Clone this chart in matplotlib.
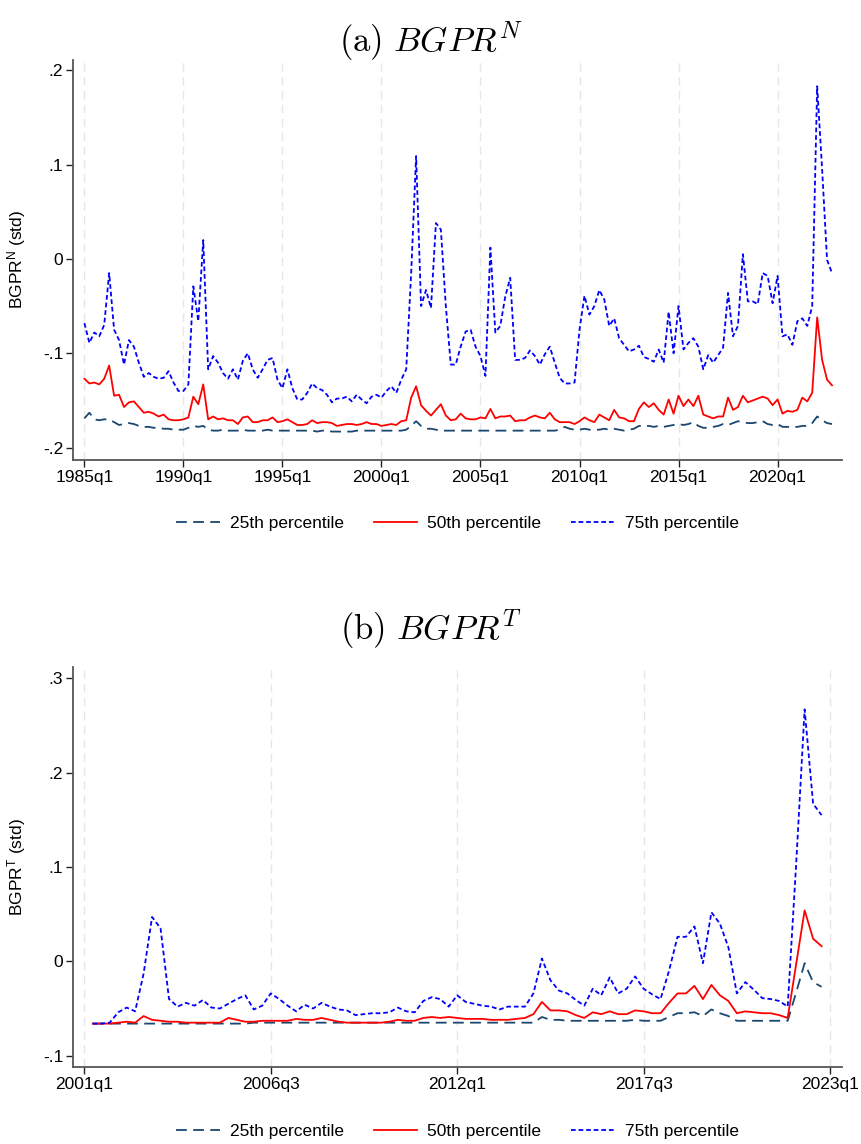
"""BGPR 분위수(25/50/75th) 시계열 — 패널 (a) BGPR^N, (b) BGPR^T."""
import numpy as np
import matplotlib
matplotlib.use("Agg")
import matplotlib.pyplot as plt

plt.rcParams["font.family"] = ["Liberation Sans", "DejaVu Sans"]
plt.rcParams["mathtext.fontset"] = "custom"
plt.rcParams["mathtext.rm"] = "Liberation Sans"
plt.rcParams["mathtext.it"] = "Liberation Sans:italic"

# (a) BGPR^N, 1985q1 - 2022q4
N_START = 1985
N_P25 = [
    -0.169, -0.163, -0.170, -0.171, -0.170, -0.170, -0.173, -0.176, -0.175, -0.174,
    -0.175, -0.177, -0.178, -0.178, -0.179, -0.179, -0.180, -0.180, -0.181, -0.181,
    -0.181, -0.179, -0.177, -0.178, -0.177, -0.181, -0.182, -0.182, -0.181, -0.182,
    -0.182, -0.182, -0.181, -0.182, -0.182, -0.182, -0.182, -0.181, -0.182, -0.182,
    -0.182, -0.182, -0.182, -0.182, -0.182, -0.182, -0.182, -0.183, -0.182, -0.182,
    -0.183, -0.183, -0.183, -0.183, -0.183, -0.182, -0.182, -0.182, -0.182, -0.182,
    -0.182, -0.182, -0.182, -0.182, -0.182, -0.181, -0.177, -0.172, -0.177, -0.180,
    -0.180, -0.181, -0.182, -0.182, -0.182, -0.182, -0.182, -0.182, -0.182, -0.182,
    -0.182, -0.182, -0.182, -0.182, -0.182, -0.182, -0.182, -0.182, -0.182, -0.182,
    -0.182, -0.182, -0.182, -0.182, -0.182, -0.182, -0.181, -0.178, -0.180, -0.181,
    -0.181, -0.180, -0.181, -0.181, -0.181, -0.180, -0.181, -0.180, -0.181, -0.182,
    -0.181, -0.180, -0.177, -0.177, -0.177, -0.178, -0.177, -0.178, -0.177, -0.176,
    -0.175, -0.176, -0.175, -0.173, -0.177, -0.179, -0.179, -0.178, -0.177, -0.175,
    -0.176, -0.174, -0.172, -0.173, -0.174, -0.174, -0.173, -0.172, -0.175, -0.176,
    -0.175, -0.178, -0.178, -0.178, -0.178, -0.177, -0.177, -0.174, -0.167, -0.171,
    -0.174, -0.175,
]
N_P50 = [
    -0.127, -0.132, -0.131, -0.133, -0.127, -0.113, -0.145, -0.144, -0.157, -0.152,
    -0.151, -0.157, -0.163, -0.162, -0.164, -0.167, -0.165, -0.170, -0.171, -0.171,
    -0.170, -0.168, -0.146, -0.154, -0.133, -0.170, -0.167, -0.170, -0.169, -0.171,
    -0.171, -0.175, -0.168, -0.167, -0.173, -0.173, -0.171, -0.171, -0.168, -0.173,
    -0.172, -0.170, -0.173, -0.176, -0.176, -0.175, -0.171, -0.174, -0.173, -0.173,
    -0.174, -0.177, -0.176, -0.175, -0.175, -0.176, -0.175, -0.173, -0.175, -0.175,
    -0.177, -0.176, -0.175, -0.176, -0.172, -0.171, -0.147, -0.135, -0.155, -0.161,
    -0.166, -0.160, -0.154, -0.166, -0.171, -0.170, -0.164, -0.169, -0.170, -0.170,
    -0.168, -0.169, -0.159, -0.169, -0.167, -0.167, -0.166, -0.172, -0.171, -0.171,
    -0.168, -0.166, -0.168, -0.169, -0.163, -0.170, -0.173, -0.173, -0.173, -0.175,
    -0.172, -0.168, -0.171, -0.173, -0.165, -0.168, -0.171, -0.160, -0.168, -0.169,
    -0.172, -0.172, -0.159, -0.152, -0.157, -0.153, -0.160, -0.165, -0.149, -0.164,
    -0.145, -0.156, -0.149, -0.156, -0.145, -0.165, -0.167, -0.169, -0.167, -0.167,
    -0.147, -0.160, -0.157, -0.145, -0.152, -0.150, -0.148, -0.146, -0.148, -0.155,
    -0.149, -0.164, -0.161, -0.162, -0.160, -0.147, -0.151, -0.142, -0.062, -0.107,
    -0.128, -0.134,
]
N_P75 = [
    -0.068, -0.089, -0.078, -0.082, -0.070, -0.015, -0.075, -0.086, -0.112, -0.086,
    -0.093, -0.110, -0.125, -0.121, -0.125, -0.127, -0.126, -0.119, -0.131, -0.140,
    -0.140, -0.133, -0.029, -0.066, 0.020, -0.117, -0.103, -0.110, -0.121, -0.127,
    -0.117, -0.128, -0.108, -0.100, -0.117, -0.126, -0.117, -0.107, -0.105, -0.128,
    -0.137, -0.117, -0.137, -0.149, -0.149, -0.142, -0.132, -0.137, -0.139, -0.144,
    -0.152, -0.148, -0.148, -0.146, -0.151, -0.144, -0.149, -0.153, -0.146, -0.144,
    -0.147, -0.140, -0.135, -0.142, -0.128, -0.117, -0.015, 0.109, -0.050, -0.033,
    -0.052, 0.038, 0.031, -0.050, -0.112, -0.112, -0.093, -0.077, -0.075, -0.093,
    -0.103, -0.124, 0.012, -0.078, -0.071, -0.040, -0.020, -0.107, -0.107, -0.105,
    -0.097, -0.103, -0.112, -0.101, -0.093, -0.110, -0.126, -0.132, -0.132, -0.131,
    -0.075, -0.039, -0.059, -0.050, -0.033, -0.043, -0.071, -0.063, -0.084, -0.091,
    -0.098, -0.096, -0.092, -0.104, -0.106, -0.109, -0.096, -0.110, -0.056, -0.100,
    -0.050, -0.096, -0.089, -0.084, -0.093, -0.117, -0.102, -0.110, -0.102, -0.094,
    -0.036, -0.082, -0.071, 0.005, -0.045, -0.045, -0.048, -0.015, -0.018, -0.047,
    -0.018, -0.082, -0.080, -0.091, -0.066, -0.063, -0.071, -0.050, 0.183, 0.095,
    -0.001, -0.015,
]

# (b) BGPR^T, 2001q2 - 2022q4 (축 눈금은 2001q1 기준)
T_FIRST = 1
T_P25 = [
    -0.066, -0.066, -0.066, -0.066, -0.066, -0.066, -0.066, -0.066, -0.066, -0.066,
    -0.066, -0.066, -0.066, -0.066, -0.066, -0.066, -0.066, -0.066, -0.066, -0.065,
    -0.065, -0.065, -0.065, -0.065, -0.065, -0.065, -0.065, -0.065, -0.065, -0.065,
    -0.065, -0.065, -0.065, -0.065, -0.065, -0.065, -0.065, -0.065, -0.065, -0.065,
    -0.065, -0.065, -0.065, -0.065, -0.065, -0.065, -0.065, -0.065, -0.065, -0.065,
    -0.065, -0.065, -0.065, -0.059, -0.062, -0.062, -0.063, -0.063, -0.063, -0.063,
    -0.063, -0.063, -0.063, -0.063, -0.062, -0.063, -0.063, -0.063, -0.059, -0.055,
    -0.055, -0.054, -0.058, -0.051, -0.055, -0.058, -0.063, -0.063, -0.063, -0.063,
    -0.063, -0.063, -0.063, -0.033, -0.002, -0.022, -0.027,
]
T_P50 = [
    -0.066, -0.066, -0.066, -0.065, -0.064, -0.065, -0.058, -0.062, -0.063, -0.064,
    -0.064, -0.065, -0.065, -0.065, -0.065, -0.065, -0.060, -0.062, -0.064, -0.064,
    -0.063, -0.063, -0.063, -0.063, -0.061, -0.062, -0.062, -0.060, -0.062, -0.064,
    -0.065, -0.065, -0.065, -0.065, -0.065, -0.064, -0.062, -0.063, -0.063, -0.060,
    -0.059, -0.060, -0.059, -0.060, -0.061, -0.061, -0.061, -0.062, -0.062, -0.062,
    -0.061, -0.060, -0.056, -0.043, -0.052, -0.052, -0.053, -0.057, -0.060, -0.054,
    -0.056, -0.053, -0.056, -0.056, -0.052, -0.053, -0.055, -0.055, -0.044, -0.034,
    -0.034, -0.026, -0.040, -0.025, -0.036, -0.042, -0.055, -0.053, -0.054, -0.055,
    -0.055, -0.057, -0.060, -0.003, 0.054, 0.024, 0.016,
]
T_P75 = [
    -0.066, -0.066, -0.065, -0.054, -0.049, -0.053, -0.013, 0.047, 0.035, -0.040,
    -0.048, -0.044, -0.047, -0.041, -0.049, -0.050, -0.045, -0.040, -0.036, -0.051,
    -0.047, -0.034, -0.040, -0.047, -0.053, -0.046, -0.050, -0.044, -0.048, -0.051,
    -0.052, -0.057, -0.056, -0.055, -0.055, -0.054, -0.049, -0.053, -0.054, -0.042,
    -0.038, -0.040, -0.048, -0.036, -0.043, -0.045, -0.047, -0.048, -0.051, -0.048,
    -0.048, -0.048, -0.034, 0.003, -0.020, -0.031, -0.034, -0.041, -0.047, -0.029,
    -0.036, -0.017, -0.034, -0.029, -0.016, -0.029, -0.035, -0.040, -0.010, 0.026,
    0.026, 0.037, -0.002, 0.052, 0.040, 0.015, -0.034, -0.022, -0.030, -0.039,
    -0.040, -0.042, -0.048, 0.103, 0.267, 0.167, 0.155,
]

N_XTICKS = [0, 20, 40, 60, 80, 100, 120, 140]
N_XLABELS = ["1985q1", "1990q1", "1995q1", "2000q1", "2005q1", "2010q1", "2015q1", "2020q1"]
N_YTICKS = [-0.2, -0.1, 0.0, 0.1, 0.2]
N_YLABELS = ["-.2", "-.1", "0", ".1", ".2"]
T_XTICKS = [0, 22, 44, 66, 88]
T_XLABELS = ["2001q1", "2006q3", "2012q1", "2017q3", "2023q1"]
T_YTICKS = [-0.1, 0.0, 0.1, 0.2, 0.3]
T_YLABELS = ["-.1", "0", ".1", ".2", ".3"]

LABELS = ["25th percentile", "50th percentile", "75th percentile"]
NAVY, RED, BLUE = "#1a476f", "#ff0000", "#0000ff"
FS = 12.5


def panel(ax, x, p25, p50, p75, xticks, xlabels, yticks, ylabels, ylabel, xlim, ylim):
    for t in xticks:
        ax.axvline(t, color="#e6e6e6", lw=1.0, ls=(0, (6, 4)), zorder=0)
    ax.plot(x, p25, color=NAVY, lw=1.3, ls=(0, (6, 3.5)), label=LABELS[0])
    ax.plot(x, p50, color=RED, lw=1.3, label=LABELS[1])
    ax.plot(x, p75, color=BLUE, lw=1.3, ls=(0, (2.6, 1.6)), label=LABELS[2])
    ax.set_xlim(*xlim)
    ax.set_ylim(*ylim)
    ax.set_xticks(xticks)
    ax.set_xticklabels(xlabels, fontsize=FS)
    ax.set_yticks(yticks)
    ax.set_yticklabels(ylabels, fontsize=FS)
    ax.set_ylabel(ylabel, fontsize=FS)
    ax.yaxis.set_label_coords(-0.058, 0.5)
    for s in ["top", "right"]:
        ax.spines[s].set_visible(False)
    for s in ["left", "bottom"]:
        ax.spines[s].set_color("#555555")
        ax.spines[s].set_linewidth(1.3)
    ax.tick_params(direction="out", length=5, width=1.0, color="#222222", pad=2)
    ax.legend(loc="center", bbox_to_anchor=(0.5, -0.16), ncol=3, frameon=False,
              fontsize=FS, handlelength=2.5, handletextpad=0.6, columnspacing=1.7)


fig = plt.figure(figsize=(8.62, 11.44), dpi=100)
ax1 = fig.add_axes([0.0847, 0.598, 0.892, 0.3497])
ax2 = fig.add_axes([0.0847, 0.0673, 0.892, 0.3497])

xn = np.arange(len(N_P50))
panel(ax1, xn, N_P25, N_P50, N_P75, N_XTICKS, N_XLABELS, N_YTICKS, N_YLABELS,
      r"BGPR$^{\mathrm{N}}$ (std)", (-2.3, 153), (-0.213, 0.211))
xt = np.arange(T_FIRST, T_FIRST + len(T_P50))
panel(ax2, xt, T_P25, T_P50, T_P75, T_XTICKS, T_XLABELS, T_YTICKS, T_YLABELS,
      r"BGPR$^{\mathrm{T}}$ (std)", (-1.33, 89.4), (-0.112, 0.312))

fig.text(0.5, 0.963, r"$\mathrm{(a)}\ BGPR^N$", ha="center", va="center",
         fontsize=25, math_fontfamily="cm")
fig.text(0.5, 0.449, r"$\mathrm{(b)}\ BGPR^T$", ha="center", va="center",
         fontsize=25, math_fontfamily="cm")

fig.savefig("out.png", dpi=100)
